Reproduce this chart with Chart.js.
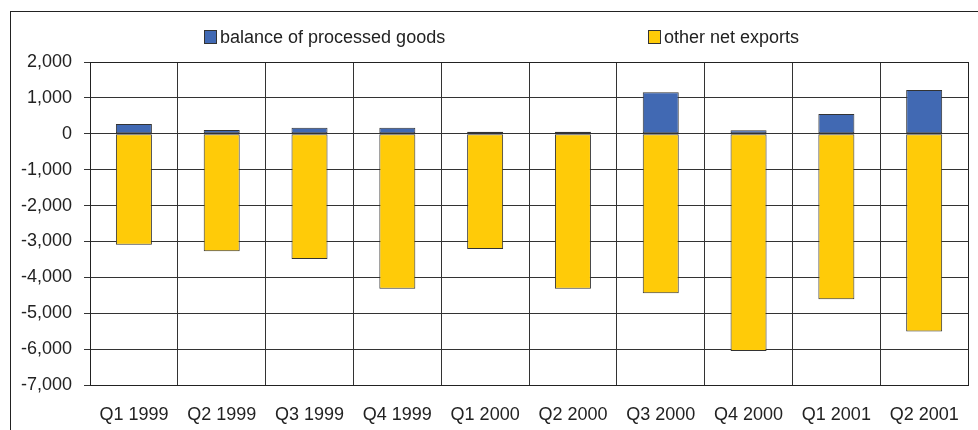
<!DOCTYPE html>
<html>
<head>
<meta charset="utf-8">
<script src="https://cdn.jsdelivr.net/npm/chart.js@4"></script>
<style>
  body { margin: 0; background: #fff; font-family: "Liberation Sans", Arial, sans-serif; }
  #wrap { position: relative; width: 978px; height: 430px; overflow: hidden; }
  #frame { position: absolute; left: 10px; top: 11px; width: 1000px; height: 500px; border: 1px solid #222; }
  .leg { position: absolute; top: 27px; font-size: 18px; color: #222; white-space: nowrap; }
  .leg i { display: inline-block; width: 11px; height: 12px; border: 1px solid #333; margin-right: 3px; vertical-align: -1px; }
</style>
</head>
<body>
<div id="wrap">
  <div id="frame"></div>
  <canvas id="bar-chart" width="978" height="430"></canvas>
  <div class="leg" style="left:204px"><i style="background:#4169b3"></i>balance of processed goods</div>
  <div class="leg" style="left:648px"><i style="background:#ffcb08"></i>other net exports</div>
</div>
<script>
var quarters = ["Q1 1999", "Q2 1999", "Q3 1999", "Q4 1999", "Q1 2000", "Q2 2000", "Q3 2000", "Q4 2000", "Q1 2001", "Q2 2001"];
var processedGoods = [270, 105, 165, 165, 55, 55, 1160, 100, 550, 1220];
var otherExports = [-3090, -3270, -3490, -4320, -3210, -4320, -4445, -6055, -4610, -5510];
var yTicks = [2000, 1000, 0, -1000, -2000, -3000, -4000, -5000, -6000, -7000];

Chart.defaults.font.family = '"Liberation Sans", Arial, sans-serif';
Chart.defaults.font.size = 18;
Chart.defaults.color = '#222';

new Chart(document.getElementById("bar-chart"), {
    type: 'bar',
    data: {
      labels: quarters,
      datasets: [
        {
          label: "balance of processed goods",
          backgroundColor: '#4169b3',
          borderColor: '#333',
          borderWidth: 1,
          borderSkipped: false,
          data: processedGoods
        },
        {
          label: "other net exports",
          backgroundColor: '#ffcb08',
          borderColor: '#333',
          borderWidth: 1,
          borderSkipped: false,
          data: otherExports
        }
      ]
    },
    options: {
      responsive: false,
      animation: false,
      layout: { padding: { top: 62, right: 6, left: 0, bottom: 0 } },
      plugins: {
        legend: { display: false },
        tooltip: { enabled: false }
      },
      datasets: { bar: { categoryPercentage: 1, barPercentage: 0.41 } },
      scales: {
        x: {
          stacked: true,
          afterFit: function (s) { s.height = 45; },
          grid: { color: '#333', drawTicks: false, offset: true },
          border: { color: '#222' },
          ticks: { padding: 19, maxRotation: 0 }
        },
        y: {
          stacked: true,
          min: -7000,
          max: 2000,
          afterFit: function (s) { s.width = 90; },
          afterBuildTicks: function (s) { s.ticks = yTicks.map(function (v) { return { value: v }; }); },
          grid: { color: '#333', tickLength: 6 },
          border: { color: '#222' },
          ticks: {
            padding: 12,
            callback: function (v) { return v.toLocaleString('en-US'); }
          }
        }
      }
    },
    plugins: [{
      id: 'areaBorder',
      afterDraw: function (c) {
        var a = c.chartArea, ctx = c.ctx;
        ctx.save();
        ctx.strokeStyle = '#222';
        ctx.lineWidth = 1;
        ctx.strokeRect(Math.round(a.left) + 0.5, Math.round(a.top) + 0.5, Math.round(a.right - a.left), Math.round(a.bottom - a.top));
        ctx.restore();
      }
    }]
});
</script>
</body>
</html>
